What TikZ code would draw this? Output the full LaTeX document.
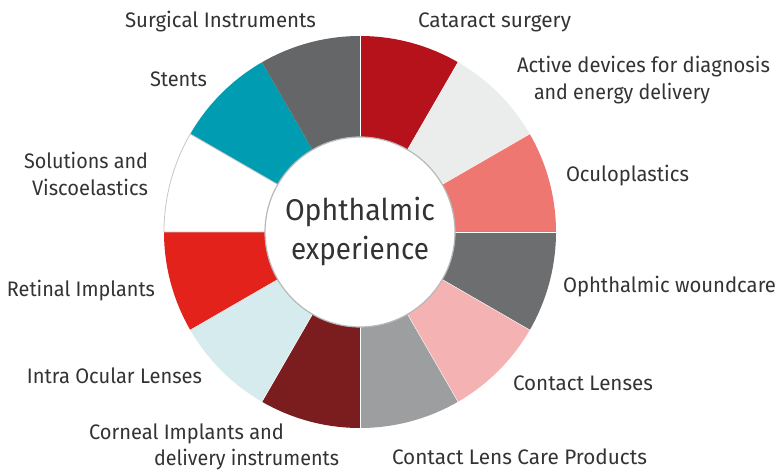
\documentclass[tikz,border=0pt]{standalone}
\usepackage{fontspec}
\setmainfont{Fira Sans}
\usepackage{graphicx}
\definecolor{cA}{HTML}{B5121B}
\definecolor{cB}{HTML}{EBECEC}
\definecolor{cC}{HTML}{EE7772}
\definecolor{cD}{HTML}{6D6E70}
\definecolor{cE}{HTML}{F4B2B3}
\definecolor{cF}{HTML}{9D9E9F}
\definecolor{cG}{HTML}{7B1C1F}
\definecolor{cH}{HTML}{D6EBEE}
\definecolor{cI}{HTML}{E3221B}
\definecolor{cJ}{HTML}{FFFFFF}
\definecolor{cK}{HTML}{009DB2}
\definecolor{cL}{HTML}{656668}
\definecolor{txt}{HTML}{333333}
\newcommand\fitw[2]{\resizebox{#1pt}{\height}{#2}}
\begin{document}
\begin{tikzpicture}[x=1pt,y=1pt,
  lbl/.style={anchor=base west,inner sep=0pt,outer sep=0pt,text=txt,font=\fontsize{21}{25}\selectfont},
  ctr/.style={anchor=base west,inner sep=0pt,outer sep=0pt,text=txt,font=\fontsize{30}{36}\selectfont}]
\useasboundingbox (0,0) rectangle (779,471);
\begin{scope}[shift={(360,239)}]
\foreach \a/\c in {90/cA,60/cB,30/cC,0/cD,-30/cE,-60/cF,-90/cG,-120/cH,-150/cI,150/cK,120/cL}{
  \fill[\c] (0,0) -- (\a:196) arc[start angle=\a,end angle=\a-30,radius=196] -- cycle;
}
\filldraw[fill=white,draw=black!22,line width=0.8pt] (0,0) -- (180:196) arc[start angle=180,end angle=150,radius=196] -- cycle;
\foreach \a in {90,60,30,0,-30,-60,-90,-120,-150}{
  \draw[white,line width=0.4pt] (0,0) -- (\a:196);
}
\filldraw[fill=white,draw=black!28,line width=1.2pt] (0,0) circle[radius=95];
\end{scope}
\node[lbl] (sur) at (125,443) {\fitw{191}{Surgical Instruments}};
\node[lbl] (cat) at (418,443) {\fitw{153}{Cataract surgery}};
\node[lbl] (act1) at (517,398) {\fitw{253}{Active devices for diagnosis}};
\node[lbl] (act2) at (534,371) {\fitw{176}{and energy delivery}};
\node[lbl] (ste) at (150,384) {\fitw{57}{Stents}};
\node[lbl] (sol1) at (24,302) {\fitw{124}{Solutions and}};
\node[lbl] (sol2) at (32,275) {\fitw{116}{Viscoelastics}};
\node[lbl] (ocu) at (566,289) {\fitw{123}{Oculoplastics}};
\node[lbl] (wou) at (563,178) {\fitw{213}{Ophthalmic woundcare}};
\node[lbl] (ret) at (7,174) {\fitw{148}{Retinal Implants}};
\node[lbl] (ioc) at (27,87) {\fitw{175}{Intra Ocular Lenses}};
\node[lbl] (cor1) at (89,31) {\fitw{195}{Corneal Implants and}};
\node[lbl] (cor2) at (154,5) {\fitw{185}{delivery instruments}};
\node[lbl] (cl) at (513,80) {\fitw{140}{Contact Lenses}};
\node[lbl] (clc) at (392,6) {\fitw{255}{Contact Lens Care Products}};
\node[ctr] (oph) at (285,250) {\fitw{150}{Ophthalmic}};
\node[ctr] (exp) at (291,211) {\fitw{138}{experience}};
\end{tikzpicture}
\end{document}
